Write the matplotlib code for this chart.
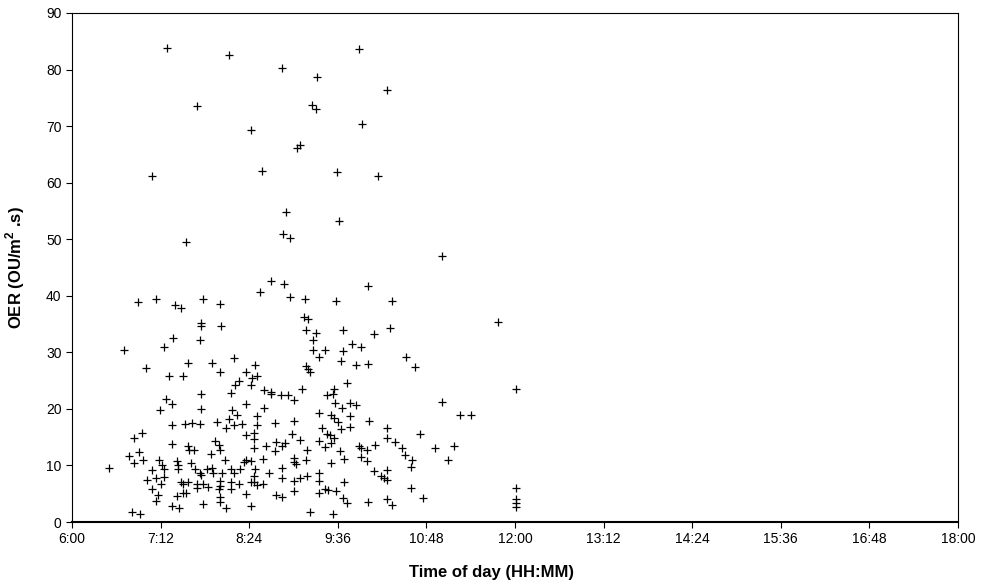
import numpy as np
import matplotlib
matplotlib.use("Agg")
import matplotlib.pyplot as plt

plt.rcParams['font.family'] = ['Liberation Sans', 'DejaVu Sans']
plt.rcParams['mathtext.fontset'] = 'custom'
plt.rcParams['mathtext.bf'] = 'Liberation Sans:bold'
plt.rcParams['mathtext.rm'] = 'Liberation Sans'

# time of day in decimal hours, OER values
hours = [7.28, 8.12, 8.84, 7.69, 8.42, 9.05, 9.09, 8.57, 7.09, 9.89, 9.32, 10.26, 9.25, 9.30, 9.93, 9.59, 10.14,
         7.54, 8.90, 8.86, 8.95, 9.61, 11.01, 8.69, 8.55, 6.90, 7.14, 7.40, 7.48, 7.77, 8.01, 7.75, 7.75, 8.02,
         7.37, 7.24, 7.74, 6.70, 7.00, 7.57, 7.89, 7.31, 7.51, 8.01, 8.19, 8.48, 8.35, 8.51, 8.44, 8.26, 8.21,
         8.42, 8.60, 8.69, 7.75, 8.15, 8.87, 10.01, 8.95, 9.16, 9.58, 10.34, 9.14, 9.19, 9.17, 9.30, 9.67, 10.31,
         10.09, 9.26, 9.27, 9.43, 9.34, 9.67, 9.79, 9.92, 9.64, 9.84, 10.01, 10.52, 10.65, 9.17, 9.19, 9.22,
         9.72, 9.11, 9.55,
         7.27, 7.35, 7.19, 7.75, 6.95, 6.84, 7.35, 7.53, 7.63, 7.74, 7.96, 7.36, 7.57, 7.59, 7.65, 7.94, 7.88,
         6.91, 6.77, 6.84, 6.96, 6.50, 7.18, 7.22, 7.24, 7.08, 7.42, 7.43, 7.44, 7.61, 7.67, 7.75, 7.74, 7.83,
         7.90, 7.91, 7.01, 7.14, 7.24, 7.21, 7.09, 7.16, 7.14, 7.47, 7.51, 7.57, 7.69, 7.77, 7.84, 7.69, 7.42,
         7.50, 7.55, 7.77, 7.35, 7.45, 6.81, 6.92,
         8.70, 8.83, 8.92, 9.01, 9.46, 9.54, 9.56, 8.35, 8.60, 8.17, 8.24, 8.13, 8.08, 8.19, 8.30, 8.51, 8.51,
         8.75, 9.01, 9.34, 9.51, 9.55, 9.39, 9.45, 9.50, 8.36, 8.46, 8.47, 8.76, 8.88, 8.84, 8.75, 8.98, 9.09,
         8.63, 8.46, 9.34, 9.43, 9.51, 9.55, 9.18, 7.99, 8.01, 8.59, 8.36, 8.33, 8.42, 8.07, 9.00, 9.01, 9.03,
         9.17, 9.51, 8.84, 8.84, 8.67, 8.15, 8.28, 8.19, 8.48, 8.46, 8.42, 8.46, 8.51, 8.59, 8.03, 8.01, 8.01,
         7.99, 8.00, 8.00, 8.16, 8.16, 8.26, 8.35, 8.09, 8.42, 9.01, 9.09, 9.18, 9.35, 9.35, 8.76, 8.85, 9.01,
         9.34, 9.43, 9.47, 9.57, 9.23, 9.54,
         11.01, 9.66, 9.76, 9.85, 9.77, 9.60, 9.64, 9.76, 10.02, 10.26, 10.26, 10.37, 10.47, 10.51, 10.61,
         10.59, 10.72, 10.92, 11.18, 11.09, 9.63, 9.68, 9.89, 9.92, 9.99, 9.92, 9.99, 10.10, 10.09, 10.26,
         10.18, 10.22, 10.26, 10.59, 10.75, 9.68, 9.67, 9.72, 10.01, 10.26, 10.34,
         12.01, 11.77, 11.26, 11.41, 12.01, 12.01, 12.01, 12.01]

oer = [83.8, 82.6, 80.2, 73.6, 69.4, 66.2, 66.6, 62.1, 61.1, 83.6, 78.6, 76.4, 73.8, 73.1, 70.4, 61.8, 61.2,
       49.5, 54.8, 51.0, 50.3, 53.3, 47.1, 42.6, 40.7, 38.9, 39.5, 38.4, 37.9, 39.5, 38.6, 35.2, 34.6, 34.6,
       32.6, 31.0, 32.2, 30.5, 27.2, 28.1, 28.1, 25.8, 25.9, 26.5, 29.0, 27.7, 26.6, 25.8, 25.5, 25.0, 24.3,
       24.3, 23.4, 22.9, 22.7, 22.8, 42.0, 41.8, 39.7, 39.5, 39.1, 39.0, 36.2, 35.9, 33.9, 33.5, 34.0, 34.3,
       33.2, 32.2, 30.4, 30.5, 29.2, 30.3, 31.5, 30.9, 28.4, 27.7, 28.0, 29.2, 27.4, 27.5, 27.1, 26.5,
       24.6, 23.5, 23.5,
       21.7, 20.8, 19.8, 20.0, 15.8, 14.8, 17.1, 17.3, 17.5, 17.4, 17.6, 13.8, 13.5, 12.7, 12.7, 14.4, 12.1,
       12.4, 11.6, 10.4, 10.9, 9.5, 10.9, 10.0, 9.4, 9.2, 10.8, 10.0, 9.3, 10.5, 9.4, 8.3, 8.7, 9.3,
       9.5, 8.6, 7.5, 7.7, 7.9, 6.8, 5.9, 4.7, 3.7, 7.0, 6.8, 7.1, 6.8, 6.8, 6.2, 6.0, 4.6,
       5.1, 5.1, 3.2, 2.8, 2.4, 1.8, 1.4,
       22.7, 22.5, 22.4, 21.6, 22.4, 22.6, 21.1, 20.9, 20.2, 19.8, 19.0, 18.2, 16.7, 17.1, 17.4, 18.7, 17.2,
       17.5, 17.8, 19.3, 19.0, 18.4, 16.7, 15.5, 15.3, 15.4, 15.8, 14.6, 14.1, 14.0, 13.4, 12.5, 15.6, 14.5,
       13.4, 13.0, 14.4, 13.3, 13.9, 14.8, 12.8, 13.7, 12.7, 11.1, 10.9, 10.6, 10.8, 10.9, 11.4, 10.6, 10.2,
       10.9, 10.4, 9.6, 7.8, 8.7, 9.3, 9.3, 8.7, 9.3, 8.1, 7.0, 7.0, 6.5, 6.8, 8.6, 7.2, 6.4,
       5.8, 4.5, 3.6, 7.0, 5.9, 6.7, 4.9, 2.5, 2.9, 7.2, 7.8, 8.2, 8.6, 7.2, 4.8, 4.4, 5.4,
       5.1, 5.9, 5.6, 5.5, 1.7, 1.5,
       21.2, 20.1, 21.1, 20.6, 18.7, 17.6, 16.5, 16.8, 17.9, 16.6, 14.8, 14.1, 13.1, 11.9, 10.9,
       9.8, 15.6, 13.1, 13.5, 11.0, 12.5, 11.2, 13.4, 13.0, 12.7, 11.5, 10.8, 13.7, 9.1, 9.2,
       8.1, 7.8, 7.5, 6.1, 4.2, 7.0, 4.2, 3.3, 3.6, 4.0, 3.0,
       23.5, 35.4, 18.9, 18.9, 6.1, 4.0, 3.4, 2.7]

tick_hours = [6, 7.2, 8.4, 9.6, 10.8, 12, 13.2, 14.4, 15.6, 16.8, 18]
tick_labels = ["6:00", "7:12", "8:24", "9:36", "10:48", "12:00", "13:12", "14:24", "15:36", "16:48", "18:00"]

fig = plt.figure(figsize=(9.82, 5.88), dpi=100)
ax = fig.add_axes([72/982, 1 - 522/588, 886/982, 509/588])

ax.plot(hours, oer, linestyle='none', marker='+', color='black', markersize=6, markeredgewidth=0.9)

ax.set_xlim(6, 18)
ax.set_ylim(0, 90)
ax.set_xticks(tick_hours)
ax.set_xticklabels(tick_labels)
ax.set_yticks(np.arange(0, 91, 10))
ax.tick_params(direction='out', length=4, width=0.8, labelsize=10, colors='black')
for s in ax.spines.values():
    s.set_linewidth(0.8)
ax.spines['bottom'].set_linewidth(1.5)

ax.set_xlabel("Time of day (HH:MM)", fontsize=12, fontweight='bold')
ax.set_ylabel(r"OER (OU/m$^{\mathbf{2}}$ .s)", fontsize=12, fontweight='bold')
ax.xaxis.set_label_coords(0.473, -0.085)
ax.yaxis.set_label_coords(-0.051, 0.5)

plt.savefig("out.png", dpi=100)
plt.close('all')
